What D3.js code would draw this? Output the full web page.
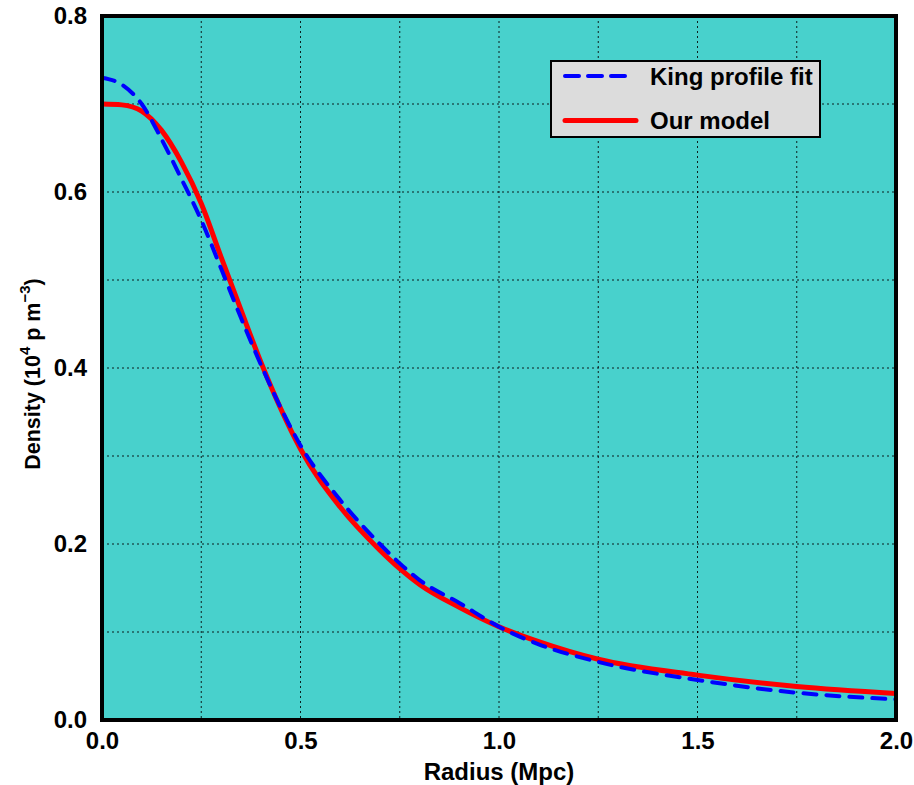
<!DOCTYPE html>
<html><head><meta charset="utf-8">
<script src="https://cdn.jsdelivr.net/npm/d3@7"></script>
<style>body{margin:0;background:#fff;} text{font-family:"Liberation Sans",Arial,sans-serif;font-weight:bold;}</style>
</head><body>
<svg id="c" width="914" height="785"></svg>
<script>
const radius = [0,0.05,0.1,0.15,0.2,0.25,0.3,0.35,0.4,0.45,0.5,0.6,0.7,0.75,0.8,0.9,1.0,1.1,1.25,1.5,1.75,2.0];
const kingFit = [0.730,0.722,0.700,0.660,0.615,0.568,0.513,0.457,0.404,0.355,0.312,0.250,0.200,0.178,0.159,0.133,0.106,0.086,0.066,0.0455,0.031,0.0235];
const ourModel = [0.700,0.699,0.692,0.670,0.634,0.587,0.526,0.466,0.407,0.354,0.308,0.242,0.193,0.172,0.154,0.128,0.106,0.089,0.069,0.051,0.038,0.030];
const xTicks = [0,0.5,1.0,1.5,2.0];
const yTicks = [0,0.2,0.4,0.6,0.8];
const xGrid = [0.25,0.5,0.75,1.0,1.25,1.5,1.75];
const yGrid = [0.1,0.2,0.3,0.4,0.5,0.6,0.7];
const seriesNames = ["King profile fit","Our model"];

const svg = d3.select("#c");
const L=102,R=896,T=16,B=720;
const x = d3.scaleLinear().domain([0,2]).range([L,R]);
const y = d3.scaleLinear().domain([0,0.8]).range([B,T]);

svg.append("rect").attr("x",L).attr("y",T).attr("width",R-L).attr("height",B-T).attr("fill","#48D1CC");

const g = svg.append("g");
g.selectAll(".vg").data(xGrid).join("line").attr("x1",d=>x(d)).attr("x2",d=>x(d)).attr("y1",T).attr("y2",B)
 .attr("stroke","#000").attr("stroke-width",1).attr("stroke-dasharray","2,3").attr("opacity",0.85);
g.selectAll(".hg").data(yGrid).join("line").attr("y1",d=>y(d)).attr("y2",d=>y(d)).attr("x1",L).attr("x2",R)
 .attr("stroke","#000").attr("stroke-width",1).attr("stroke-dasharray","2,3").attr("opacity",0.85);

const line = d3.line().x(d=>x(d[0])).y(d=>y(d[1])).curve(d3.curveMonotoneX);
svg.append("clipPath").attr("id","cp").append("rect").attr("x",L).attr("y",T).attr("width",R-L+3).attr("height",B-T);
svg.append("path").datum(radius.map((r,i)=>[r,ourModel[i]])).attr("d",line).attr("fill","none")
 .attr("stroke","#ff0000").attr("stroke-width",5).attr("clip-path","url(#cp)");
svg.append("path").datum(radius.map((r,i)=>[r,kingFit[i]])).attr("d",line).attr("fill","none")
 .attr("stroke","#0000ff").attr("stroke-width",4).attr("stroke-dasharray","13,10").attr("stroke-linecap","round").attr("clip-path","url(#cp)");

// frame
svg.append("rect").attr("x",L).attr("y",T).attr("width",R-L).attr("height",B-T).attr("fill","none").attr("stroke","#000").attr("stroke-width",4);

// axes labels
const xAxis = d3.axisBottom(x).tickValues(xTicks).tickFormat(d3.format(".1f")).tickSize(0).tickPadding(12);
const xa = svg.append("g").attr("transform",`translate(0,${B})`).call(xAxis);
xa.select(".domain").remove();
xa.selectAll("text").attr("font-size",24).attr("fill","#000").attr("font-family","Liberation Sans, Arial, sans-serif").attr("font-weight","bold");
const yAxis = d3.axisLeft(y).tickValues(yTicks).tickFormat(d3.format(".1f")).tickSize(0).tickPadding(15);
const ya = svg.append("g").attr("transform",`translate(${L},0)`).call(yAxis);
ya.select(".domain").remove();
ya.selectAll("text").attr("font-size",24).attr("fill","#000").attr("font-family","Liberation Sans, Arial, sans-serif").attr("font-weight","bold");

svg.append("text").attr("x",499).attr("y",780).attr("text-anchor","middle").attr("font-size",24).text("Radius (Mpc)");
const yt = svg.append("text").attr("transform","translate(40,374) rotate(-90)").attr("text-anchor","middle").attr("font-size",21.5);
yt.append("tspan").text("Density (10");
yt.append("tspan").attr("font-size",15).attr("dy",-10).text("4");
yt.append("tspan").attr("dy",10).text(" p m");
yt.append("tspan").attr("font-size",15).attr("dy",-10).text("\u22123");
yt.append("tspan").attr("dy",10).text(")");

// legend
const lg = svg.append("g");
lg.append("rect").attr("x",551).attr("y",61).attr("width",269).attr("height",76).attr("fill","#dcdcdc").attr("stroke","#000").attr("stroke-width",2);
lg.append("line").attr("x1",565).attr("x2",630).attr("y1",76).attr("y2",76).attr("stroke","#0000ff").attr("stroke-width",4).attr("stroke-dasharray","14,9").attr("stroke-linecap","round");
lg.append("line").attr("x1",565).attr("x2",636).attr("y1",120.5).attr("y2",120.5).attr("stroke","#ff0000").attr("stroke-width",5).attr("stroke-linecap","round");
lg.append("text").attr("x",650).attr("y",85).attr("font-size",24).text(seriesNames[0]);
lg.append("text").attr("x",650).attr("y",129).attr("font-size",24).text(seriesNames[1]);
</script>
</body></html>
